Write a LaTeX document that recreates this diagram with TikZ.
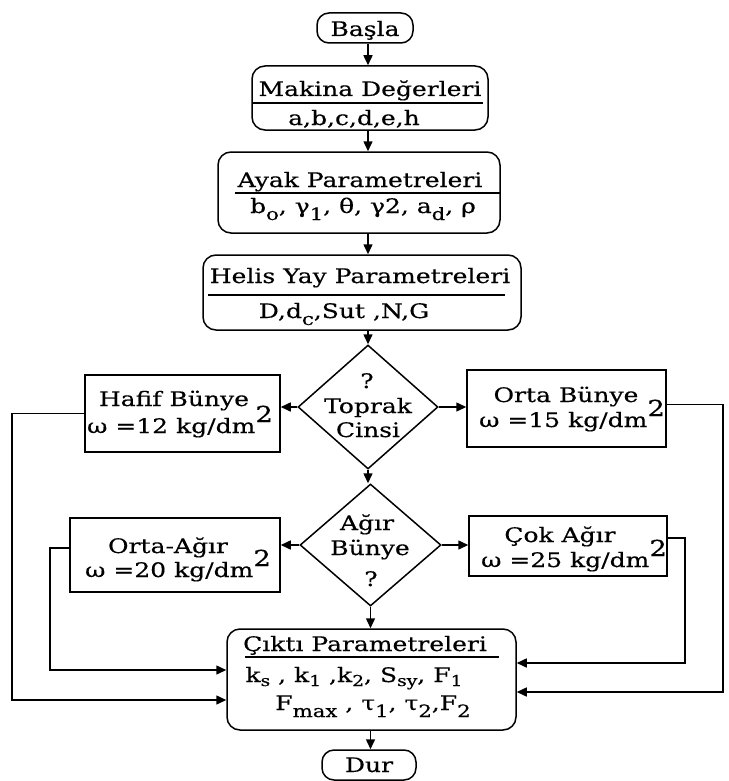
\documentclass[tikz,border=0pt]{standalone}
\usepackage{fontspec}
\setmainfont[FakeStretch=1.25,FakeBold=0.4]{DejaVu Serif}
\usetikzlibrary{shapes.geometric,arrows.meta}
\newcommand\lo[1]{\raisebox{-7pt}{\fontsize{17}{17}\selectfont #1}}
\newcommand\los[1]{\raisebox{-4pt}{\fontsize{15}{15}\selectfont #1}}
\newcommand\hi[1]{\raisebox{11pt}{\fontsize{22}{22}\selectfont #1}}
\begin{document}
\begin{tikzpicture}[x=1pt,y=-1pt,
  font=\fontsize{20}{24}\selectfont,
  box/.style={draw, line width=1.5pt, inner sep=0pt},
  rbox/.style={box, rounded corners=13pt},
  pbox/.style={box},
  dia/.style={box, diamond},
  txt/.style={inner sep=0pt, anchor=base},
  arr/.style={line width=1.5pt, -{Triangle[length=10pt,width=9pt]}},
  uline/.style={line width=1.5pt}
]
\useasboundingbox (0,0) rectangle (728,781);
\coordinate (spine) at (368,0);

% --- start
\node[rbox, rounded corners=12pt, minimum width=96pt, minimum height=30pt] (basla) at (365,28) {};
\node[txt] (baslaT) at (365,36) {Başla};

% --- Makina
\node[rbox, minimum width=236pt, minimum height=64pt] (makina) at (370,98) {};
\node[txt] (makinaT) at (370,96) {Makina Değerleri};
\draw[uline] (253,103) -- (483,103);
\node[txt] (makinaV) at (354,125) {a,b,c,d,e,h};

% --- Ayak
\node[rbox, minimum width=282pt, minimum height=81pt] (ayak) at (359,192.5) {};
\node[txt] (ayakT) at (360,187) {Ayak Parametreleri};
\draw[uline] (235,193) -- (500,193);
\node[txt] (ayakV) at (363,213) {b\lo{o}, γ\lo{1}, θ, γ2, a\lo{d}, ρ};

% --- Helis
\node[rbox, minimum width=318pt, minimum height=75pt] (helis) at (362,292.5) {};
\node[txt] (helisT) at (360,283) {Helis Yay Parametreleri};
\draw[uline] (208,295) -- (505,295);
\node[txt] (helisV) at (344,318) {D,d\lo{c},Sut ,N,G};

% --- Toprak decision
\node[dia, minimum width=140pt, minimum height=124pt] (toprak) at (368,407) {};
\node[txt] (toprakQ) at (367,388) {?};
\node[txt] (toprakT1) at (368,413) {Toprak};
\node[txt] (toprakT2) at (368,437) {Cinsi};

% --- Hafif
\node[pbox, minimum width=195pt, minimum height=77pt] (hafif) at (182.5,413.5) {};
\node[txt] (hafifT) at (174,406) {Hafif Bünye};
\node[txt] (hafifV) at (180,433) {ω =12 kg/dm\hi{2}};

% --- Orta
\node[pbox, minimum width=199pt, minimum height=77pt] (orta) at (566.5,408.5) {};
\node[txt] (ortaT) at (566,402) {Orta Bünye};
\node[txt] (ortaV) at (572,427) {ω =15 kg/dm\hi{2}};

% --- Agir decision
\node[dia, minimum width=141pt, minimum height=122pt] (agir) at (370.5,545) {};
\node[txt] (agirT1) at (367,530) {Ağır};
\node[txt] (agirT2) at (370,555) {Bünye};
\node[txt] (agirQ) at (371,586) {?};

% --- Orta-Agir
\node[pbox, minimum width=210pt, minimum height=74pt] (ortaagir) at (175,555) {};
\node[txt] (ortaagirT) at (168,553) {Orta-Ağır};
\node[txt] (ortaagirV) at (178,577) {ω =20 kg/dm\hi{2}};

% --- Cok Agir
\node[pbox, minimum width=198pt, minimum height=60pt] (cokagir) at (568,546) {};
\node[txt] (cokagirT) at (560,542) {Çok Ağır};
\node[txt] (cokagirV) at (574,567) {ω =25 kg/dm\hi{2}};

% --- Cikti
\node[rbox, minimum width=289pt, minimum height=101pt] (cikti) at (371.5,679.5) {};
\node[txt] (ciktiT) at (365,651) {Çıktı Parametreleri};
\draw[uline] (245,657) -- (499,657);
\node[txt] (ciktiV1) at (354,682) {k\los{s} , k\los{1} ,k\los{2}, S\los{sy}, F\los{1}};
\node[txt] (ciktiV2) at (373,710) {F\lo{max} , τ\lo{1}, τ\lo{2},F\lo{2}};

% --- Dur
\node[rbox, rounded corners=12pt, minimum width=94pt, minimum height=30pt] (dur) at (369,765) {};
\node[txt] (durT) at (369,772) {Dur};

% --- main spine arrows
\draw[arr] (basla.south -| spine) -- (makina.north -| spine);
\draw[arr] (makina.south -| spine) -- (ayak.north -| spine);
\draw[arr] (ayak.south -| spine) -- (helis.north -| spine);
\draw[arr] (helis.south -| toprak.north) -- (toprak.north);
\draw[arr] (toprak.south) -- (agir.north -| toprak.south);
\draw[arr] (agir.south) -- (cikti.north -| agir.south);
\draw[arr] (cikti.south -| agir.south) -- (dur.north -| agir.south);

% --- decision branches
\draw[arr] (toprak.west) -- (hafif.east |- toprak.west);
\draw[arr] (toprak.east) -- (orta.west |- toprak.east);
\draw[arr] (agir.west) -- (ortaagir.east |- agir.west);
\draw[arr] (agir.east) -- (cokagir.west |- agir.east);

% --- return links
\coordinate (L1) at (12,700);
\coordinate (L2) at (50,670);
\coordinate (R1) at (685,663);
\coordinate (R2) at (723,692);
\draw[arr] (hafif.west) -| (L1) -- (cikti.west |- L1);
\draw[arr] ([yshift=7pt]ortaagir.west) -| (L2) -- (cikti.west |- L2);
\draw[arr] ([yshift=4pt]orta.east) -| (R2) -- (cikti.east |- R2);
\draw[arr] ([yshift=8pt]cokagir.east) -| (R1) -- (cikti.east |- R1);
\end{tikzpicture}
\end{document}
